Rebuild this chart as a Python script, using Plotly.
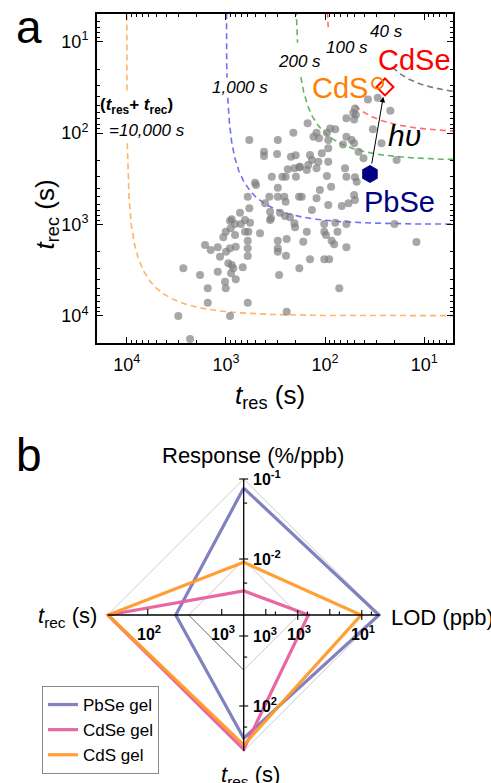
import numpy as np
import plotly.graph_objects as go

W, H = 491, 783
FONT = "Liberation Sans, Arial, Helvetica, sans-serif"

# ---------------- panel a data ----------------
lit_tres = [209, 581, 300, 413, 413, 305, 221, 198, 238, 204, 182, 345, 270, 250, 197, 509, 497, 300,
            603, 365, 300, 258, 183, 250, 403, 581, 721, 359, 285, 254, 226, 874, 642, 351, 909, 809,
            704, 571, 895, 1004, 1062, 809, 642, 594, 453, 603, 603, 603, 1624, 1423, 1209, 1147, 997,
            909, 796, 946, 874, 842, 888, 796, 677, 1021, 1004, 1209, 2688, 1824, 1526, 1526, 603, 3019,
            909, 2300, 300, 300, 300, 244, 248, 204, 201, 166, 291, 182, 244, 359, 153, 102, 102, 98,
            79, 75, 86, 81, 61, 61, 142, 102, 91, 72, 20, 12, 37, 29.5, 50, 22, 49, 51, 33, 27, 79,
            150, 122, 115, 93, 61, 54, 51, 66, 46, 41, 19, 93, 108, 142, 136, 179, 148, 117, 93, 122,
            153, 96, 63, 61, 50, 48, 87, 113, 172, 122, 93, 68, 58, 50, 51, 136, 89, 61, 52, 96, 131]
lit_trec = [99, 119, 119, 160, 178, 169, 181, 175, 249, 243, 237, 300, 300, 300, 300, 349, 370, 396,
            497, 497, 497, 497, 497, 563, 586, 665, 743, 725, 743, 807, 834, 877, 893, 855, 909, 988,
            988, 956, 1100, 1199, 1381, 1303, 1199, 1199, 1249, 1504, 1822, 2212, 1676, 1902, 1776,
            2251, 1985, 1822, 1750, 2659, 2775, 3015, 3420, 3979, 2940, 4226, 4991, 3285, 3015, 3569,
            4991, 7171, 7171, 10030, 10030, 17900, 1504, 1822, 1985, 1441, 2195, 970, 1073, 1542, 3569,
            3015, 9000, 893, 1199, 988, 1199, 1303, 956, 1199, 1504, 1647, 988, 1776, 2403, 2403, 2403,
            4991, 988, 1554, 43, 41, 54, 57, 63, 71, 91, 129, 91, 78, 99, 114, 119, 110, 119, 129, 133,
            160, 189, 197, 147, 166, 174, 197, 233, 223, 206, 206, 243, 253, 295, 243, 300, 305, 340,
            386, 419, 497, 517, 612, 628, 586, 540, 476, 693, 89, 69, 60, 99, 110]

sum_levels = [10000, 1000, 200, 100, 40]          # t_res + t_rec (s)
sum_colors = ["#ffb466", "#7070f5", "#62b862", "#ff6e6e", "#7a7a7a"]
# t_rec ranges where the iso-sum curves are interrupted by their labels
sum_gaps = {10000: (38, 128), 1000: (25, 41), 200: (10.3, 24.3), 100: (7, 50), 40: (0, 19)}

gel_names = ["PbSe", "CdSe", "CdS"]
gel_tres = [35.3, 24.9, 29.6]
gel_trec = [280, 31.3, 28.5]

# ---------------- panel b data ----------------
radar_axes = ["Response (%/ppb)", "LOD (ppb)", "t_res (s)", "t_rec (s)"]
radar_pbse = [0.077, 2.9, 34.6, 239]
radar_cdse = [0.0040, 466, 24, 29]
radar_cds = [0.0091, 10.5, 27.7, 29]
radar_series = [("PbSe gel", radar_pbse, "#7b7bbf"),
                 ("CdSe gel", radar_cdse, "#e8609f"),
                 ("CdS gel", radar_cds, "#ff9a2a")]
# log10 value at centre and at the outer vertex for each spoke
radar_log_range = [(-2.7, -1.0), (4.69, 0.44), (3.3, 1.357), (3.297, 1.459)]
radar_ticks = [
    [(0.1, "cross", "10<sup>-1</sup>"), (0.05, "right", None), (0.01, "cross", "10<sup>-2</sup>"), (0.005, "right", None)],
    [(1e4, "up6", None), (5000, "up3", None), (1000, "cross", "10<sup>3</sup>"), (500, "up3", None),
     (100, "up6", None), (50, "up3", None), (10, "cross", "10<sup>1</sup>"), (5, "up3", None)],
    [(1000, "cross", "10<sup>3</sup>"), (500, "right", None), (100, "cross", "10<sup>2</sup>"), (50, "right", None)],
    [(100, "up6", "10<sup>2</sup>"), (1000, "up6", "10<sup>3</sup>")],
]

fig = go.Figure()

# ---------------- panel a ----------------
u = np.linspace(-4.5, 4.5, 1501)
for C, col in zip(sum_levels, sum_colors):
    f = 1.0 / (1.0 + 10.0 ** u)
    tr = C * f
    tc = C * (1 - f)
    lo, hi = sum_gaps[C]
    tc_plot = np.where((tc > lo) & (tc < hi), np.nan, tc)
    fig.add_trace(go.Scatter(x=tr, y=tc_plot, mode="lines", xaxis="x", yaxis="y",
                             line=dict(color=col, width=1.6, dash="6px,4px"),
                             showlegend=False, hoverinfo="skip", connectgaps=False))

fig.add_trace(go.Scatter(x=lit_tres, y=lit_trec, mode="markers", xaxis="x", yaxis="y",
                         marker=dict(size=8, color="rgba(125,125,125,0.68)", line=dict(width=0)),
                         showlegend=False))

fig.add_trace(go.Scatter(x=[gel_tres[0]], y=[gel_trec[0]], mode="markers", xaxis="x", yaxis="y",
                         marker=dict(symbol="hexagon", size=18, color="#000080"), showlegend=False))
fig.add_trace(go.Scatter(x=[gel_tres[1]], y=[gel_trec[1]], mode="markers", xaxis="x", yaxis="y",
                         marker=dict(symbol="diamond-open", size=13, color="#ff0000", line=dict(width=2)),
                         showlegend=False))
fig.add_trace(go.Scatter(x=[gel_tres[2]], y=[gel_trec[2]], mode="markers", xaxis="x", yaxis="y",
                         marker=dict(symbol="circle-open", size=11, color="#ff8000", line=dict(width=2)),
                         showlegend=False))

# ---------------- panel b ----------------
cx, cy, R = 243.7, 615.0, 136.0
dirs = [(0, 1), (1, 0), (0, -1), (-1, 0)]


def radar_r(i, v):
    c, o = radar_log_range[i]
    return (np.log10(v) - c) / (o - c)


def poly(values):
    xs, ys = [], []
    for i, v in enumerate(values):
        r = radar_r(i, v)
        xs.append(dirs[i][0] * r)
        ys.append(dirs[i][1] * r)
    return xs + xs[:1], ys + ys[:1]


shapes = []
# grid diamonds
for rr, cols in [(1.0, ["#c4c4c4"] * 4), (0.405, ["#c4c4c4", "#c4c4c4", "#555555", "#c4c4c4"])]:
    pts = [(d[0] * rr, d[1] * rr) for d in dirs]
    for k in range(4):
        a, b = pts[k], pts[(k + 1) % 4]
        shapes.append(dict(type="line", xref="x2", yref="y2", x0=a[0], y0=a[1], x1=b[0], y1=b[1],
                           line=dict(color=cols[k], width=0.9), layer="below"))
# axis cross
shapes.append(dict(type="line", xref="x2", yref="y2", x0=-1, y0=0, x1=1, y1=0,
                   line=dict(color="black", width=1.3)))
shapes.append(dict(type="line", xref="x2", yref="y2", x0=0, y0=-1, x1=0, y1=1,
                   line=dict(color="black", width=1.3)))

annotations = []
for i, ticks in enumerate(radar_ticks):
    for v, kind, lab in ticks:
        r = radar_r(i, v)
        px, py = dirs[i][0] * r, dirs[i][1] * r
        if i in (0, 2):
            if kind == "cross":
                x0, x1 = -4.5 / R, 4.5 / R
            else:
                x0, x1 = 0, 3.5 / R
            shapes.append(dict(type="line", xref="x2", yref="y2", x0=x0, x1=x1, y0=py, y1=py,
                               line=dict(color="black", width=1.1)))
            if lab:
                annotations.append(dict(x=px, y=py, xref="x2", yref="y2", text="<b>" + lab + "</b>",
                                        showarrow=False, xanchor="left", yanchor="middle", xshift=7,
                                        yshift=1, font=dict(size=16, color="black", family=FONT)))
        else:
            if kind == "cross":
                y0, y1 = -5 / R, 5 / R
            elif kind == "up6":
                y0, y1 = 0, 6 / R
            else:
                y0, y1 = 0, 3.5 / R
            shapes.append(dict(type="line", xref="x2", yref="y2", x0=px, x1=px, y0=y0, y1=y1,
                               line=dict(color="black", width=1.1)))
            if lab:
                annotations.append(dict(x=px, y=py, xref="x2", yref="y2", text="<b>" + lab + "</b>",
                                        showarrow=False, xanchor="center", yanchor="middle", xshift=1,
                                        yshift=-18, font=dict(size=16, color="black", family=FONT)))

for name, vals, col in radar_series:
    xs, ys = poly(vals)
    fig.add_trace(go.Scatter(x=xs, y=ys, mode="lines", xaxis="x2", yaxis="y2", name=name,
                             line=dict(color=col, width=3.2), opacity=0.95))


def P(px, py):
    return px / W, 1 - py / H


def ann(px, py, text, size, color="black", xanchor="center", **kw):
    x, y = P(px, py)
    d = dict(x=x, y=y, xref="paper", yref="paper", text=text, showarrow=False,
             xanchor=xanchor, yanchor="middle", font=dict(size=size, color=color, family=FONT))
    d.update(kw)
    annotations.append(d)


# panel a labels
ann(29, 27, "a", 46)
ann(29, 455, "b", 46)
ann(270, 396, "<i>t</i><sub>res</sub> (s)", 26)
x_, y_ = P(27, 178)
annotations.append(dict(x=x_, y=y_, xref="paper", yref="paper", text="<i>t</i><sub>rec</sub> (s)",
                        showarrow=False, textangle=-90, font=dict(size=26, color="black", family=FONT)))
ann(386.5, 31.5, "<i>40 s</i>", 17)
ann(346.5, 48, "<i>100 s</i>", 17)
ann(299.5, 61.5, "<i>200 s</i>", 17)
ann(239.5, 87.5, "<i>1,000 s</i>", 17)
ann(136.5, 106, "<b>(<i>t</i><sub>res</sub>+ <i>t</i><sub>rec</sub>)</b>", 17)
ann(147, 131, "<i>=10,000 s</i>", 17)
ann(414.5, 60, "CdSe", 29, color="#ff0000")
ann(340, 88, "CdS", 29, color="#ff8000")
ann(399, 202, "PbSe", 29, color="#000080")
ann(404, 135, "<i>hυ</i>", 30)

annotations.append(dict(x=np.log10(gel_tres[1]), y=np.log10(gel_trec[1]), xref="x", yref="y",
                        ax=np.log10(gel_tres[0]), ay=np.log10(gel_trec[0]), axref="x", ayref="y",
                        text="", showarrow=True, arrowhead=2, arrowsize=1.1, arrowwidth=1,
                        arrowcolor="black", standoff=10, startstandoff=9))

# panel b axis titles
ann(252.5, 455, "Response (%/ppb)", 22)
ann(389, 617, "LOD (ppb)", 22, xanchor="left")
ann(99, 617, "<i>t</i><sub>rec</sub> (s)", 22, xanchor="right")
ann(250, 776, "<i>t</i><sub>res</sub> (s)", 22)

major = [10, 100, 1000, 10000]
minor_vals = [m * 10 ** e for e in range(0, 5) for m in range(2, 10) if 5 <= m * 10 ** e <= 20000]

axis_common = dict(showline=True, linewidth=2, linecolor="black", mirror="allticks", ticks="inside",
                   ticklen=6, tickwidth=1.2, tickcolor="black", showgrid=False, zeroline=False,
                   tickvals=major, ticktext=["10<sup>1</sup>", "10<sup>2</sup>", "10<sup>3</sup>", "10<sup>4</sup>"],
                   tickfont=dict(size=18, color="black", family=FONT),
                   minor=dict(ticks="inside", ticklen=3, tickwidth=0.8, tickcolor="black",
                              tickvals=minor_vals, showgrid=False))

fig.update_layout(
    width=W, height=H, autosize=False,
    margin=dict(l=0, r=0, t=0, b=0),
    paper_bgcolor="white", plot_bgcolor="rgba(0,0,0,0)",
    font=dict(family=FONT, color="black"),
    xaxis=dict(type="log", range=[4.3, 0.7105], domain=[97 / W, 453 / W], anchor="y",
               ticklabelstandoff=4, **axis_common),
    yaxis=dict(type="log", range=[4.297, 0.697], domain=[1 - 343 / H, 1 - 14 / H], anchor="x",
               ticklabelstandoff=3, **axis_common),
    xaxis2=dict(domain=[0, 1], range=[-cx / R, (W - cx) / R], anchor="y2", visible=False, fixedrange=True),
    yaxis2=dict(domain=[0, 383 / H], range=[-(H - cy) / R, (cy - 400) / R], anchor="x2",
                visible=False, fixedrange=True),
    shapes=shapes,
    annotations=annotations,
    showlegend=True,
    legend=dict(x=42 / W, y=1 - 686 / H, xanchor="left", yanchor="top", bordercolor="#8a8a8a",
                borderwidth=1, bgcolor="white", font=dict(size=17, color="black", family=FONT),
                tracegroupgap=0, itemwidth=30),
)

fig.write_html("out.html", config={"displayModeBar": False},
               post_script="document.body.style.margin='0';document.body.style.overflow='hidden';")
